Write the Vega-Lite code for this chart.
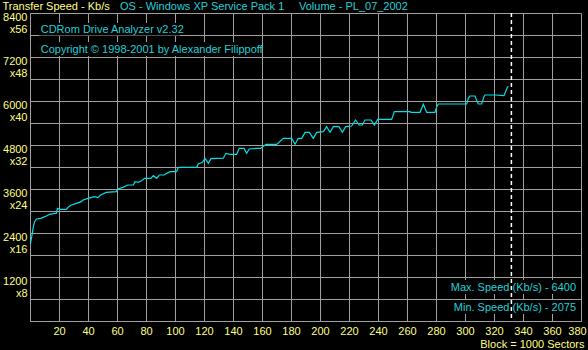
{
  "$schema": "https://vega.github.io/schema/vega-lite/v6.json",
  "width": 551,
  "height": 308,
  "autosize": {"type": "none"},
  "padding": {"left": 30, "top": 13, "right": 7, "bottom": 29},
  "background": "#000000",
  "config": {
    "view": {"stroke": null},
    "font": "Liberation Sans",
    "text": {"font": "Liberation Sans", "fontSize": 11}
  },
  "resolve": {"axis": {"x": "independent", "y": "independent"}},
  "data": {
    "values": [
      {"block": 0, "speed": 2075}, {"block": 0.5, "speed": 2150}, {"block": 1.2, "speed": 2300},
      {"block": 1.8, "speed": 2450}, {"block": 2.5, "speed": 2600}, {"block": 3.2, "speed": 2710},
      {"block": 4.4, "speed": 2782}, {"block": 7.4, "speed": 2800}, {"block": 9, "speed": 2827},
      {"block": 11.3, "speed": 2864}, {"block": 13.6, "speed": 2909}, {"block": 17, "speed": 2936},
      {"block": 18.2, "speed": 2940}, {"block": 18.9, "speed": 3073}, {"block": 20.5, "speed": 3046},
      {"block": 25, "speed": 3046}, {"block": 26.7, "speed": 3118}, {"block": 28.5, "speed": 3164},
      {"block": 32, "speed": 3209}, {"block": 35.4, "speed": 3254}, {"block": 36.6, "speed": 3300},
      {"block": 40, "speed": 3345}, {"block": 44.6, "speed": 3391}, {"block": 46.9, "speed": 3364},
      {"block": 48.7, "speed": 3436}, {"block": 52.6, "speed": 3509}, {"block": 59.5, "speed": 3527},
      {"block": 60.7, "speed": 3600}, {"block": 64, "speed": 3645}, {"block": 67.6, "speed": 3709},
      {"block": 71.3, "speed": 3709}, {"block": 72.4, "speed": 3800}, {"block": 74.7, "speed": 3782},
      {"block": 77, "speed": 3827}, {"block": 78.9, "speed": 3891}, {"block": 83.4, "speed": 3891},
      {"block": 85, "speed": 3963}, {"block": 87.4, "speed": 3891}, {"block": 89.2, "speed": 3982},
      {"block": 92.6, "speed": 3982}, {"block": 94.3, "speed": 4027}, {"block": 96.6, "speed": 4073},
      {"block": 101, "speed": 4073}, {"block": 102.3, "speed": 4191}, {"block": 115, "speed": 4191},
      {"block": 116, "speed": 4282}, {"block": 118.9, "speed": 4327}, {"block": 120.7, "speed": 4436},
      {"block": 123, "speed": 4300}, {"block": 124.8, "speed": 4427}, {"block": 133.3, "speed": 4440},
      {"block": 135.2, "speed": 4573}, {"block": 137.9, "speed": 4545}, {"block": 142.5, "speed": 4545},
      {"block": 144.3, "speed": 4709}, {"block": 147.6, "speed": 4709}, {"block": 149.4, "speed": 4573},
      {"block": 151.2, "speed": 4691}, {"block": 156, "speed": 4709}, {"block": 159.1, "speed": 4709},
      {"block": 160.5, "speed": 4755}, {"block": 162.8, "speed": 4818}, {"block": 170.1, "speed": 4818},
      {"block": 174.7, "speed": 4982}, {"block": 180.5, "speed": 4982}, {"block": 182.8, "speed": 4818},
      {"block": 185, "speed": 4982}, {"block": 187.4, "speed": 4982}, {"block": 189.7, "speed": 5145},
      {"block": 192.6, "speed": 5145}, {"block": 195.4, "speed": 4982}, {"block": 197.7, "speed": 5145},
      {"block": 202.3, "speed": 5163}, {"block": 204.6, "speed": 5300}, {"block": 206.9, "speed": 5145},
      {"block": 209.2, "speed": 5300}, {"block": 213.1, "speed": 5300}, {"block": 215.4, "speed": 5145},
      {"block": 217.7, "speed": 5300}, {"block": 221.8, "speed": 5318}, {"block": 224.6, "speed": 5482},
      {"block": 226.9, "speed": 5345}, {"block": 229.2, "speed": 5345}, {"block": 231, "speed": 5482},
      {"block": 235.2, "speed": 5482}, {"block": 237.5, "speed": 5345}, {"block": 239.8, "speed": 5500},
      {"block": 249.4, "speed": 5500}, {"block": 251.3, "speed": 5709}, {"block": 262, "speed": 5709},
      {"block": 262.8, "speed": 5691}, {"block": 269, "speed": 5691}, {"block": 270.1, "speed": 5800},
      {"block": 271.3, "speed": 5909}, {"block": 272.4, "speed": 5800}, {"block": 273.6, "speed": 5691},
      {"block": 279.3, "speed": 5691}, {"block": 280.5, "speed": 5845}, {"block": 281.6, "speed": 5918},
      {"block": 301.2, "speed": 5918}, {"block": 302.3, "speed": 6073}, {"block": 303.4, "speed": 6136},
      {"block": 306.9, "speed": 6136}, {"block": 308, "speed": 6027}, {"block": 309.2, "speed": 5918},
      {"block": 311.5, "speed": 5918}, {"block": 313.1, "speed": 6118}, {"block": 313.8, "speed": 6164},
      {"block": 320.7, "speed": 6164}, {"block": 326.9, "speed": 6145}, {"block": 328, "speed": 6254},
      {"block": 329.2, "speed": 6373}, {"block": 330, "speed": 6400}
    ]
  },
  "layer": [
    {
      "mark": {"type": "line", "color": "#00e0e8", "strokeWidth": 1.2, "clip": true},
      "encoding": {
        "x": {
          "field": "block", "type": "quantitative",
          "scale": {"domain": [0, 380], "nice": false, "zero": false},
          "axis": {
            "zindex": 0,
            "values": [0,20,40,60,80,100,120,140,160,180,200,220,240,260,280,300,320,340,360,380],
            "labelExpr": "datum.value == 0 ? '' : datum.label",
            "format": "d",
            "grid": true, "gridColor": "#a0a0a0", "gridOpacity": 1, "gridWidth": 1,
            "domain": true, "domainColor": "#a0a0a0", "domainWidth": 1,
            "ticks": false, "tickSize": 0,
            "labelColor": "#ffff80", "labelFont": "Liberation Sans", "labelFontSize": 11,
            "labelPadding": 4, "labelFlush": false, "labelOverlap": false, "labelBound": false,
            "labelBaseline": "top",
            "labelOffset": {"condition": {"test": "datum.value == 380", "value": -4}, "value": 0},
            "title": "Block = 1000 Sectors", "titleColor": "#ffff80", "titleFont": "Liberation Sans",
            "titleFontSize": 11, "titleFontWeight": "normal", "titleAlign": "right",
            "titleBaseline": "alphabetic", "titleX": 554, "titleY": 26
          }
        },
        "y": {
          "field": "speed", "type": "quantitative",
          "scale": {"domain": [0, 8400], "nice": false, "zero": true},
          "axis": {
            "zindex": 0,
            "values": [0,600,1200,1800,2400,3000,3600,4200,4800,5400,6000,6600,7200,7800,8400],
            "format": "d",
            "labelExpr": "(datum.value % 1200 == 0 && datum.value > 0) ? [datum.label, 'x' + (datum.value / 150)] : ''",
            "grid": true, "gridColor": "#a0a0a0", "gridOpacity": 1, "gridWidth": 1,
            "domain": true, "domainColor": "#a0a0a0", "domainWidth": 1,
            "ticks": false, "tickSize": 0,
            "labelColor": "#ffff80", "labelFont": "Liberation Sans", "labelFontSize": 11,
            "labelAlign": "right", "labelBaseline": "top", "labelPadding": 3, "labelOffset": -2,
            "labelLineHeight": 12, "labelOverlap": false, "labelBound": false, "labelFlush": false,
            "title": "Transfer Speed - Kb/s", "titleColor": "#ffff80", "titleFont": "Liberation Sans",
            "titleFontSize": 11, "titleFontWeight": "normal", "titleAngle": 0, "titleAlign": "left",
            "titleBaseline": "alphabetic", "titleX": -28, "titleY": -4
          }
        }
      }
    },
    {
      "data": {"values": [{}]},
      "mark": {"type": "rect", "color": "#000000", "fill": "#000000", "opacity": 1},
      "encoding": {
        "x": {"datum": 6.2, "type": "quantitative", "axis": null},
        "x2": {"datum": 103.4},
        "y": {"datum": 8127, "type": "quantitative", "axis": null},
        "y2": {"datum": 7786}
      }
    },
    {
      "data": {"values": [{}]},
      "mark": {"type": "rect", "color": "#000000", "fill": "#000000", "opacity": 1},
      "encoding": {
        "x": {"datum": 6.2, "type": "quantitative", "axis": null},
        "x2": {"datum": 155.2},
        "y": {"datum": 7609, "type": "quantitative", "axis": null},
        "y2": {"datum": 7227}
      }
    },
    {
      "data": {"values": [{}]},
      "mark": {"type": "rect", "color": "#000000", "fill": "#000000", "opacity": 1},
      "encoding": {
        "x": {"datum": 291.7, "type": "quantitative", "axis": null},
        "x2": {"datum": 378},
        "y": {"datum": 1118, "type": "quantitative", "axis": null},
        "y2": {"datum": 736}
      }
    },
    {
      "data": {"values": [{}]},
      "mark": {"type": "rect", "color": "#000000", "fill": "#000000", "opacity": 1},
      "encoding": {
        "x": {"datum": 291.7, "type": "quantitative", "axis": null},
        "x2": {"datum": 378},
        "y": {"datum": 573, "type": "quantitative", "axis": null},
        "y2": {"datum": 191}
      }
    },
    {
      "data": {"values": [{}]},
      "mark": {"type": "rule", "color": "#ffffff", "strokeDash": [4, 3], "strokeWidth": 1.5},
      "encoding": {
        "x": {"datum": 332, "type": "quantitative", "axis": null}
      }
    },
    {
      "data": {"values": [{}]},
      "mark": {"type": "text", "text": "OS - Windows XP Service Pack 1", "color": "#20d0d8", "align": "left", "baseline": "alphabetic"},
      "encoding": {
        "x": {"datum": 62.1, "type": "quantitative", "axis": null},
        "y": {"datum": 8482, "type": "quantitative", "axis": null}
      }
    },
    {
      "data": {"values": [{}]},
      "mark": {"type": "text", "text": "Volume - PL_07_2002", "color": "#20d0d8", "align": "left", "baseline": "alphabetic"},
      "encoding": {
        "x": {"datum": 185.5, "type": "quantitative", "axis": null},
        "y": {"datum": 8482, "type": "quantitative", "axis": null}
      }
    },
    {
      "data": {"values": [{}]},
      "mark": {"type": "text", "text": "CDRom Drive Analyzer v2.32", "color": "#20d0d8", "align": "left", "baseline": "alphabetic"},
      "encoding": {
        "x": {"datum": 7.4, "type": "quantitative", "axis": null},
        "y": {"datum": 7846, "type": "quantitative", "axis": null}
      }
    },
    {
      "data": {"values": [{}]},
      "mark": {"type": "text", "text": "Copyright © 1998-2001 by Alexander Filippoff", "color": "#20d0d8", "align": "left", "baseline": "alphabetic"},
      "encoding": {
        "x": {"datum": 7.4, "type": "quantitative", "axis": null},
        "y": {"datum": 7300, "type": "quantitative", "axis": null}
      }
    },
    {
      "data": {"values": [{}]},
      "mark": {"type": "text", "text": "Max. Speed (Kb/s) - 6400", "color": "#20d0d8", "align": "right", "baseline": "alphabetic"},
      "encoding": {
        "x": {"datum": 376.6, "type": "quantitative", "axis": null},
        "y": {"datum": 827, "type": "quantitative", "axis": null}
      }
    },
    {
      "data": {"values": [{}]},
      "mark": {"type": "text", "text": "Min.  Speed (Kb/s) - 2075", "color": "#20d0d8", "align": "right", "baseline": "alphabetic"},
      "encoding": {
        "x": {"datum": 376.6, "type": "quantitative", "axis": null},
        "y": {"datum": 281, "type": "quantitative", "axis": null}
      }
    }
  ]
}
